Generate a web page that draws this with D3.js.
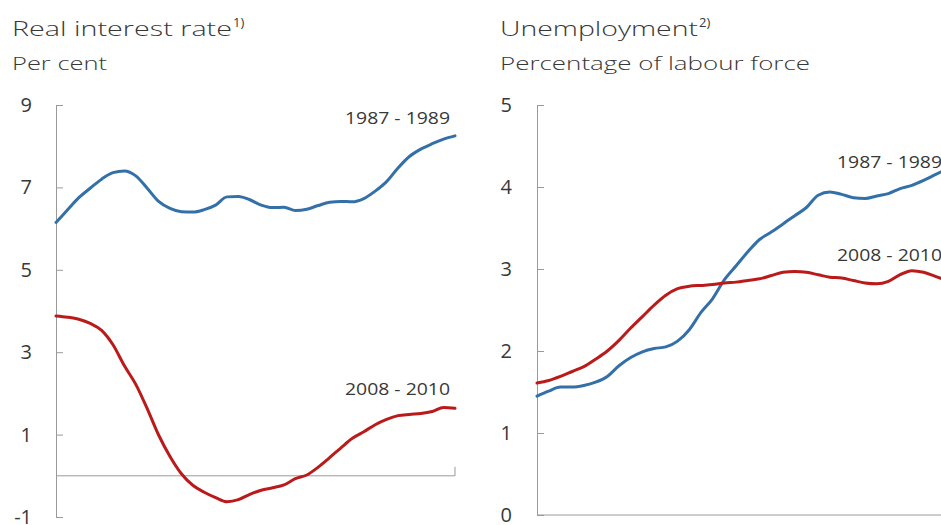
<!DOCTYPE html>
<html>
<head>
<meta charset="utf-8">
<script src="https://cdn.jsdelivr.net/npm/d3@7"></script>
<style>
  html, body { margin: 0; padding: 0; background: #fff; }
  svg { display: block; font-family: "Open Sans", "Liberation Sans", Arial, sans-serif; }
</style>
</head>
<body>
<svg id="chart" width="941" height="525"></svg>
<script>
// ---- Data (monthly, 36 observations per episode) ----
const months = d3.range(36);

// Real interest rate, per cent
const rate1987 = [6.15, 6.45, 6.75, 6.98, 7.20, 7.36, 7.40, 7.28, 6.98, 6.66, 6.49, 6.41,
                  6.40, 6.46, 6.57, 6.77, 6.78, 6.70, 6.57, 6.51, 6.52, 6.44, 6.47, 6.56,
                  6.64, 6.66, 6.65, 6.73, 6.91, 7.14, 7.47, 7.75, 7.93, 8.06, 8.17, 8.25];
const rate2008 = [3.88, 3.85, 3.80, 3.70, 3.53, 3.18, 2.67, 2.22, 1.63, 0.99, 0.47, 0.05,
                  -0.23, -0.40, -0.53, -0.63, -0.58, -0.45, -0.35, -0.29, -0.22, -0.07, 0.02, 0.21,
                  0.44, 0.68, 0.91, 1.07, 1.24, 1.37, 1.46, 1.49, 1.51, 1.56, 1.66, 1.64];

// Unemployment, percentage of labour force
const unemp1987 = [1.45, 1.51, 1.56, 1.56, 1.58, 1.62, 1.69, 1.82, 1.92, 1.99, 2.03, 2.05,
                   2.12, 2.26, 2.47, 2.64, 2.87, 3.04, 3.21, 3.36, 3.45, 3.55, 3.65, 3.75,
                   3.90, 3.94, 3.91, 3.87, 3.86, 3.89, 3.92, 3.98, 4.02, 4.08, 4.15, 4.22];
const unemp2008 = [1.61, 1.64, 1.69, 1.75, 1.81, 1.90, 2.00, 2.13, 2.28, 2.42, 2.56, 2.68,
                   2.76, 2.79, 2.80, 2.81, 2.83, 2.84, 2.86, 2.88, 2.92, 2.96, 2.97, 2.96,
                   2.93, 2.90, 2.89, 2.86, 2.83, 2.82, 2.85, 2.93, 2.98, 2.96, 2.91, 2.86];

const rateTicks = [-1, 1, 3, 5, 7, 9];
const unempTicks = [0, 1, 2, 3, 4, 5];
const seriesNames = ["1987 - 1989", "2008 - 2010"];

// ---- Styling ----
const BLUE = "#3470a8";
const RED = "#bb1a1a";
const AXIS = "#9a9a9a";
const TEXT = "#383838";

const svg = d3.select("#chart");

function panel(opts) {
  const g = svg.append("g");
  const x = d3.scaleLinear().domain([0, 35]).range(opts.xRange);
  const y = d3.scaleLinear().domain(opts.yDomain).range(opts.yRange);

  // titles
  const t = g.append("text")
    .attr("x", opts.titleX).attr("y", 36)
    .attr("fill", TEXT).attr("font-size", 21).attr("font-weight", 300);
  t.append("tspan").text(opts.title)
    .attr("textLength", opts.titleLen).attr("lengthAdjust", "spacingAndGlyphs");
  t.append("tspan").text(opts.sup).attr("font-size", 13).attr("dy", -9).attr("dx", 1)
    .attr("font-weight", 400);

  g.append("text")
    .attr("x", opts.titleX).attr("y", 70)
    .attr("fill", TEXT).attr("font-size", 18).attr("font-weight", 300)
    .attr("textLength", opts.subLen).attr("lengthAdjust", "spacingAndGlyphs")
    .text(opts.subtitle);

  // inward tick marks + axis line
  const axR = g.append("g")
    .attr("transform", `translate(${opts.xRange[0]},0)`)
    .call(d3.axisRight(y).tickValues(opts.ticks).tickSize(7).tickSizeOuter(0).tickFormat(""));
  axR.selectAll("path, line").attr("stroke", AXIS).attr("stroke-width", 1);

  // tick labels
  const axL = g.append("g")
    .attr("transform", `translate(${opts.xRange[0]},0)`)
    .call(d3.axisLeft(y).tickValues(opts.ticks).tickSize(0).tickPadding(opts.labelPad).tickFormat(d => String(d)));
  axL.select(".domain").remove();
  axL.selectAll("text").attr("font-size", 20).attr("fill", TEXT).attr("font-weight", 400)
    .attr("font-family", "'Open Sans', 'Liberation Sans', Arial, sans-serif");

  // baseline
  g.append("line")
    .attr("x1", x(0)).attr("x2", x(35))
    .attr("y1", y(opts.baseValue)).attr("y2", y(opts.baseValue))
    .attr("stroke", AXIS).attr("stroke-width", 1);
  if (opts.endTick) {
    g.append("line")
      .attr("x1", x(35)).attr("x2", x(35))
      .attr("y1", y(opts.baseValue)).attr("y2", y(opts.baseValue) - 9)
      .attr("stroke", AXIS).attr("stroke-width", 1);
  }

  const line = d3.line().x((d, i) => x(months[i])).y(d => y(d)).curve(d3.curveMonotoneX);
  [[opts.s1, BLUE], [opts.s2, RED]].forEach(([s, c]) => {
    g.append("path").datum(s)
      .attr("fill", "none").attr("stroke", c).attr("stroke-width", 3)
      .attr("stroke-linejoin", "round").attr("stroke-linecap", "round")
      .attr("d", line);
  });

  // series labels
  opts.labels.forEach(([name, v]) => {
    g.append("text")
      .attr("x", x(35) - 5).attr("y", y(v))
      .attr("text-anchor", "end")
      .attr("fill", TEXT).attr("font-size", 17).attr("font-weight", 400)
      .attr("textLength", 105).attr("lengthAdjust", "spacingAndGlyphs")
      .text(name);
  });
}

panel({
  title: "Real interest rate", sup: "1)", titleLen: 220, subLen: 95,
  subtitle: "Per cent", titleX: 12,
  xRange: [56, 455], yDomain: [-1, 9], yRange: [517, 105],
  ticks: rateTicks, labelPad: 24, baseValue: 0, endTick: true,
  s1: rate1987, s2: rate2008,
  labels: [[seriesNames[0], 8.55], [seriesNames[1], 1.97]]
});

panel({
  title: "Unemployment", sup: "2)", titleLen: 198, subLen: 310,
  subtitle: "Percentage of labour force", titleX: 500,
  xRange: [537, 947], yDomain: [0, 5], yRange: [515, 105],
  ticks: unempTicks, labelPad: 25, baseValue: 0, endTick: false,
  s1: unemp1987, s2: unemp2008,
  labels: [[seriesNames[0], 4.23], [seriesNames[1], 3.1]]
});
</script>
</body>
</html>
